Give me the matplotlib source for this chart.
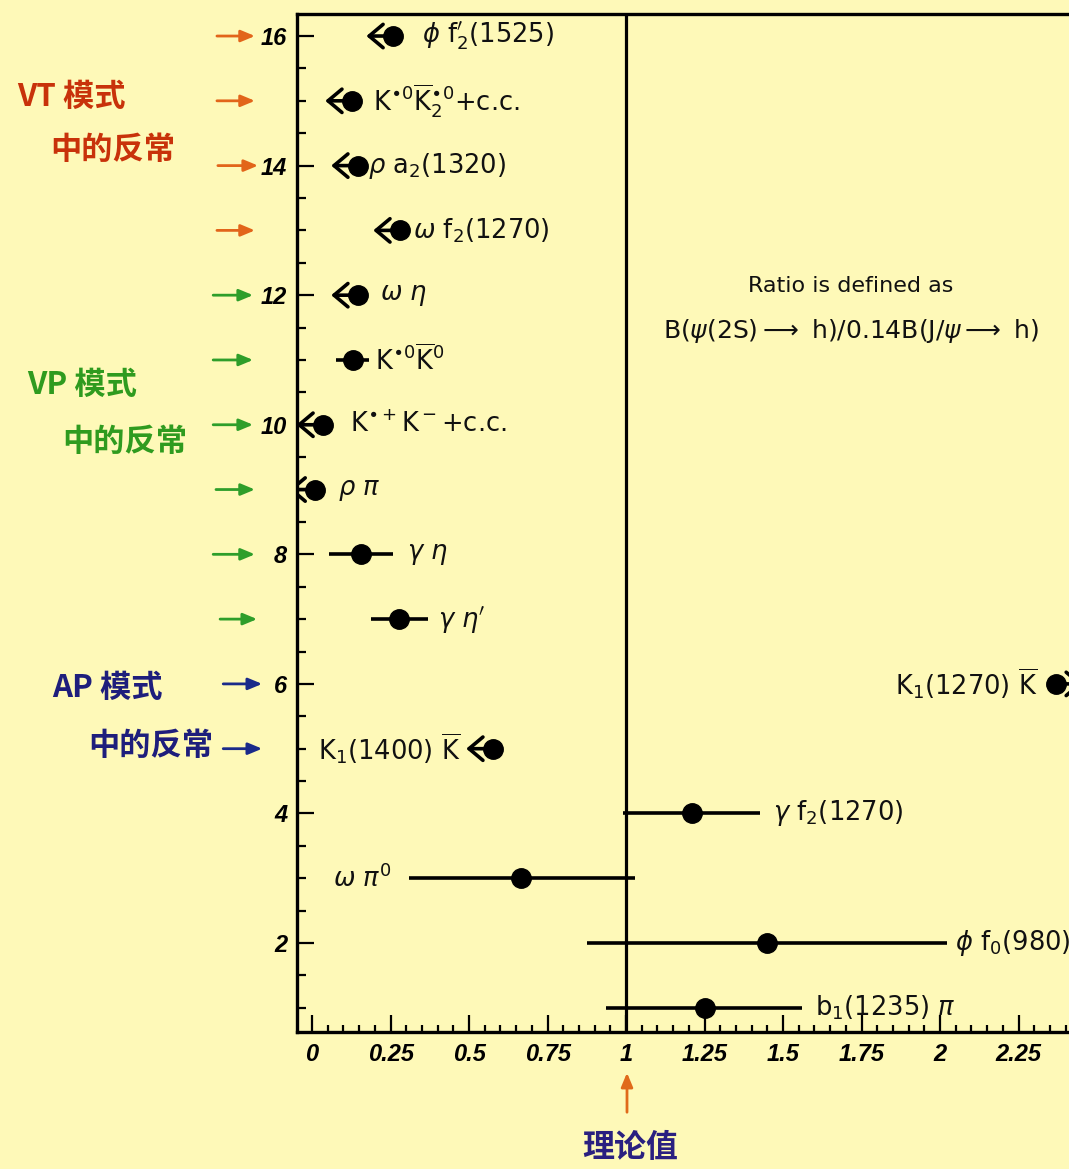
import matplotlib.pyplot as plt
from matplotlib.patches import FancyArrowPatch

plt.rcParams['font.family'] = ['DejaVu Sans']
plt.rcParams['mathtext.fontset'] = 'dejavusans'

BG = '#FEF9B8'
W, H = 1069, 1169

# channels measured with an interval: row, ratio, interval ends
meas_y = [11, 8, 7, 4, 3, 2, 1]
meas_x = [0.131, 0.156, 0.277, 1.210, 0.666, 1.449, 1.252]
meas_lo = [0.076, 0.054, 0.188, 0.990, 0.309, 0.876, 0.936]
meas_hi = [0.182, 0.258, 0.369, 1.427, 1.029, 2.022, 1.561]

# upper limits
ul_y = [16, 15, 14, 13, 12, 10, 9, 5]
ul_x = [0.258, 0.127, 0.146, 0.280, 0.146, 0.035, 0.010, 0.576]

# lower limits
ll_y = [6]
ll_x = [2.370]

# channel names, one per row
chan_y = [16, 15, 14, 13, 12, 11, 10, 9, 8, 7, 6, 5, 4, 3, 2, 1]
chan_names = [
    r'$\phi$ f$_2^{\prime}$(1525)',
    r'K$^{\bullet 0}\overline{\mathrm{K}}_2^{\bullet 0}$+c.c.',
    r'$\rho$ a$_2$(1320)',
    r'$\omega$ f$_2$(1270)',
    r'$\omega$ $\eta$',
    r'K$^{\bullet 0}\overline{\mathrm{K}}^0$',
    r'K$^{\bullet +}$K$^-$+c.c.',
    r'$\rho$ $\pi$',
    r'$\gamma$ $\eta$',
    r'$\gamma$ $\eta^{\prime}$',
    r'K$_1$(1270) $\overline{\mathrm{K}}$',
    r'K$_1$(1400) $\overline{\mathrm{K}}$',
    r'$\gamma$ f$_2$(1270)',
    r'$\omega$ $\pi^0$',
    r'$\phi$ f$_0$(980)',
    r'b$_1$(1235) $\pi$',
]
# where each name sits
name_x = [0.350, 0.194, 0.178, 0.322, 0.217, 0.201, 0.121, 0.083,
          0.303, 0.401, 2.312, 0.019, 1.468, 0.252, 2.048, 1.602]
name_ha = ['left'] * 10 + ['right', 'left', 'left', 'right', 'left', 'left']

xticks = [0, 0.25, 0.5, 0.75, 1, 1.25, 1.5, 1.75, 2, 2.25]
xtick_labels = ['0', '0.25', '0.5', '0.75', '1', '1.25', '1.5', '1.75', '2', '2.25']
yticks = [2, 4, 6, 8, 10, 12, 14, 16]

# group markers on the left: colour, rows, arrow ends
groups = [
    ('#C8320A', '#E2651A', [16, 15, 14, 13],
     [(-0.303, -0.182), (-0.303, -0.182), (-0.300, -0.172), (-0.303, -0.182)]),
    ('#2F9B1F', '#2E9E2A', [12, 11, 10, 9, 8, 7],
     [(-0.315, -0.188), (-0.315, -0.188), (-0.315, -0.188), (-0.306, -0.182),
      (-0.315, -0.182), (-0.293, -0.175)]),
    ('#1E1E7C', '#1A2A8A', [6, 5],
     [(-0.283, -0.159), (-0.283, -0.159)]),
]
group_text = [
    [('VT 模式', 17, 97), ('中的反常', 50, 150)],
    [('VP 模式', 27, 385), ('中的反常', 62, 442)],
    [('AP 模式', 52, 688), ('中的反常', 88, 746)],
]


def px(x, y):
    return x / W, 1 - y / H


fig = plt.figure(figsize=(W / 100, H / 100), dpi=100, facecolor=BG)
ax = fig.add_axes([297 / W, (H - 1032) / H, 800 / W, (1032 - 14) / H])
ax.set_facecolor(BG)
ax.set_xlim(-0.048, 2.5)
ax.set_ylim(0.627, 16.34)

ax.axvline(1, color='k', lw=2.3, zorder=1)

ax.errorbar(meas_x, meas_y,
            xerr=[[m - lo for m, lo in zip(meas_x, meas_lo)],
                  [hi - m for m, hi in zip(meas_x, meas_hi)]],
            fmt='o', color='k', ms=14, elinewidth=2.6, capsize=0, zorder=3)

ax.plot(ul_x + ll_x, ul_y + ll_y, 'o', color='k', ms=14, zorder=3)
for x, y in zip(ul_x, ul_y):
    ax.add_patch(FancyArrowPatch((x, y), (x - 0.085, y),
                                 arrowstyle='->,head_length=0.5,head_width=0.42',
                                 mutation_scale=20, lw=2.6, color='k',
                                 shrinkA=0, shrinkB=0, zorder=3))
for x, y in zip(ll_x, ll_y):
    ax.add_patch(FancyArrowPatch((x, y), (x + 0.085, y),
                                 arrowstyle='->,head_length=0.5,head_width=0.42',
                                 mutation_scale=20, lw=2.6, color='k',
                                 shrinkA=0, shrinkB=0, zorder=3))

for name, y, x, ha in zip(chan_names, chan_y, name_x, name_ha):
    ax.text(x, y, name, ha=ha, va='center', fontsize=18.5, color='#111111')

ax.text(1.716, 12.14, 'Ratio is defined as',
        ha='center', va='center', fontsize=16, color='#111111')
ax.text(1.716, 11.45,
        r'B($\psi$(2S)$\longrightarrow$ h)/0.14B(J/$\psi$$\longrightarrow$ h)',
        ha='center', va='center', fontsize=18, color='#111111')

# axes styling
for side in ['left', 'bottom', 'top']:
    ax.spines[side].set_linewidth(2.4)
ax.spines['right'].set_visible(False)
ax.set_xticks(xticks)
ax.set_xticklabels(xtick_labels)
ax.set_xticks([i * 0.05 for i in range(50)], minor=True)
ax.set_yticks(yticks)
ax.set_yticks([1 + 0.5 * i for i in range(31)], minor=True)
ax.tick_params(which='both', direction='in', width=1.6, top=False, right=False)
ax.tick_params(which='major', axis='y', length=12, pad=7)
ax.tick_params(which='minor', axis='y', length=6.5)
ax.tick_params(which='major', axis='x', length=12, pad=8)
ax.tick_params(which='minor', axis='x', length=5)
for lbl in ax.get_xticklabels() + ax.get_yticklabels():
    lbl.set_fontfamily(['Liberation Sans Narrow', 'Liberation Sans'])
    lbl.set_fontweight('bold')
    lbl.set_fontstyle('italic')
    lbl.set_fontsize(17)

# group labels and pointers
for (tcol, acol, rows, ends), texts in zip(groups, group_text):
    for y, (x0, x1) in zip(rows, ends):
        ax.annotate('', xy=(x1, y), xytext=(x0, y), xycoords='data',
                    annotation_clip=False,
                    arrowprops=dict(arrowstyle='-|>,head_length=0.6,head_width=0.25',
                                    color=acol, lw=2, mutation_scale=14,
                                    shrinkA=0, shrinkB=0))
    for s, x, y in texts:
        fig.text(*px(x, y), s, ha='left', va='center', fontsize=22.5,
                 fontweight='bold', color=tcol,
                 family=['Noto Sans CJK SC', 'DejaVu Sans'])

# theory value pointer
fig.add_artist(FancyArrowPatch(px(627, 1115), px(627, 1070),
                               transform=fig.transFigure,
                               arrowstyle='-|>,head_length=0.6,head_width=0.25',
                               color='#E06A1A', lw=2, mutation_scale=14))
fig.text(*px(630, 1148), '理论值', ha='center', va='center', fontsize=23,
         fontweight='bold', color='#2A2080',
         family=['Noto Sans CJK SC', 'DejaVu Sans'])

fig.savefig('out.png', dpi=100, facecolor=BG)
